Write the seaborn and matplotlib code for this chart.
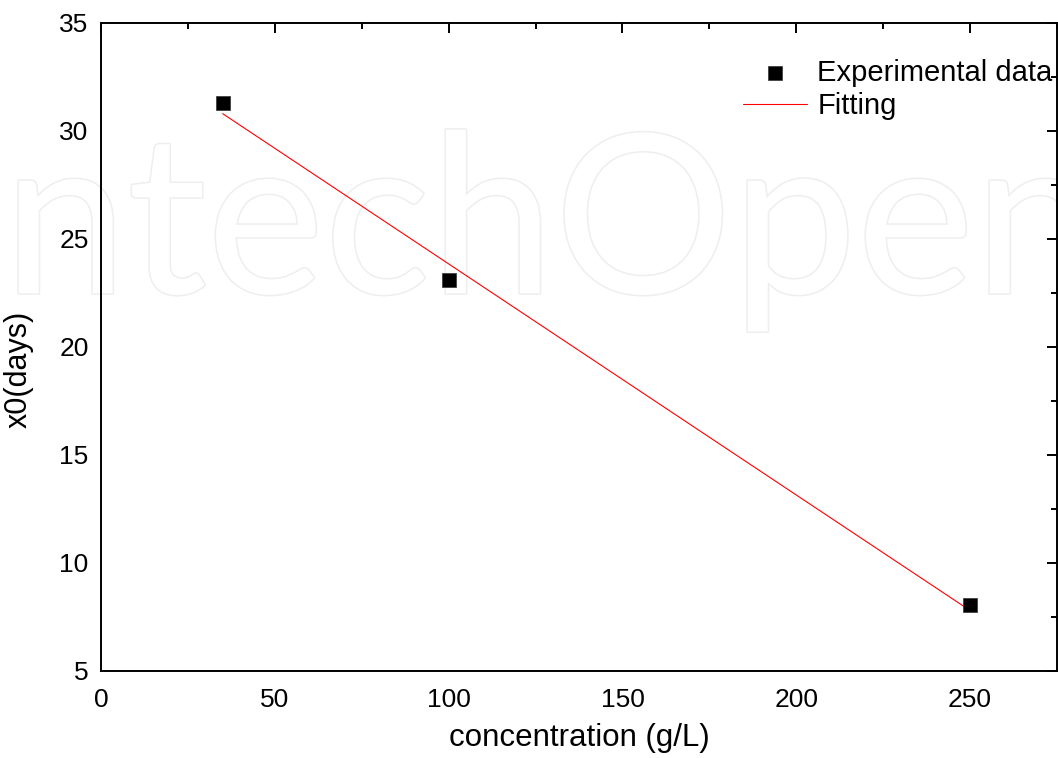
import matplotlib
matplotlib.use("Agg")
import matplotlib.pyplot as plt
import matplotlib.patheffects as pe
from matplotlib.ticker import MultipleLocator
import pandas as pd
import seaborn as sns

# data
conc = [35, 100, 250]
x0_days = [31.3, 23.1, 8.05]
fit_x = [35, 250]
fit_y = [30.8, 7.8]

sns.set_theme(style="white")
plt.rcParams['font.family'] = ['Liberation Sans', 'DejaVu Sans']
plt.rcParams['text.color'] = 'black'
plt.rcParams['axes.labelcolor'] = 'black'

fig = plt.figure(figsize=(10.58, 7.58), dpi=100)
ax = fig.add_axes([0.0955, 0.1148, 0.9035, 0.8549])
ax.set_facecolor("none")
ax.set_zorder(2)

# faint watermark behind the plot
fig.text(0.003, 0.613, "ntechOpen", fontsize=160, family="Lato", color="white",
         zorder=0, path_effects=[pe.Stroke(linewidth=2.2, foreground="#eeeeee"), pe.Normal()])

df_exp = pd.DataFrame({"conc": conc, "x0": x0_days})
df_fit = pd.DataFrame({"conc": fit_x, "x0": fit_y})

sns.lineplot(data=df_fit, x="conc", y="x0", color="red", linewidth=0.8,
             label="Fitting", ax=ax, zorder=3)
sns.scatterplot(data=df_exp, x="conc", y="x0", marker="s", s=90, color="black",
                edgecolor="#333333", linewidth=0.5, label="Experimental data", ax=ax, zorder=4)

ax.set_xlim(0, 275)
ax.set_ylim(5, 35)
ax.xaxis.set_major_locator(MultipleLocator(50))
ax.xaxis.set_minor_locator(MultipleLocator(25))
ax.yaxis.set_major_locator(MultipleLocator(5))
ax.yaxis.set_minor_locator(MultipleLocator(2.5))

ax.tick_params(which="both", direction="in", top=True, right=True, labeltop=False,
               labelright=False, width=1.4, colors="black", labelsize=19)
ax.tick_params(axis="x", which="both", pad=12)
ax.tick_params(axis="y", which="both", pad=9)
ax.tick_params(which="major", length=7.5)
ax.tick_params(which="minor", length=4)
for sp in ax.spines.values():
    sp.set_linewidth(1.4)
    sp.set_color("black")

ax.set_xlabel("concentration (g/L)", fontsize=22.5, labelpad=8)
ax.set_ylabel("x0(days)", fontsize=22)
ax.yaxis.set_label_coords(-0.071, 0.465)

handles, labels = ax.get_legend_handles_labels()
order = [labels.index("Experimental data"), labels.index("Fitting")]
ax.legend([handles[i] for i in order], [labels[i] for i in order], loc="upper right",
          frameon=False, fontsize=21, handlelength=2.2, handletextpad=0.35,
          labelspacing=0.2, borderaxespad=0.0, borderpad=0.0, bbox_to_anchor=(0.9955, 0.945))

fig.savefig("out.png", dpi=100)
plt.close(fig)
